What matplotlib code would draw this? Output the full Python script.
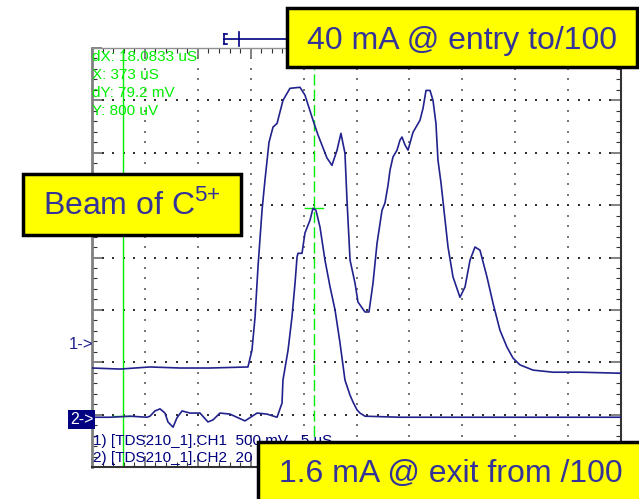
import matplotlib
matplotlib.use('Agg')
import numpy as np
import matplotlib.pyplot as plt
from matplotlib.patches import Rectangle
from matplotlib.lines import Line2D

plt.rcParams['font.family'] = ['Liberation Sans', 'DejaVu Sans']
plt.rcParams['mathtext.fontset'] = 'custom'
plt.rcParams['mathtext.rm'] = 'Liberation Sans'

# scope screen: time in us (5 us/div, 10 div), vertical in screen divisions (8 div)
ch1_t = [0, 2.65, 5.48, 8.32, 11.15, 14.74, 15.12, 15.41, 15.69, 16.07, 16.35, 16.73,
         17.11, 17.49, 18.05, 18.71, 19.66, 20.13, 20.89, 21.36, 22.21, 22.68, 23.16,
         23.53, 23.91, 24.10, 24.39, 24.86, 25.14, 25.80, 26.18, 26.56, 26.94, 27.41,
         27.69, 27.98, 28.17, 28.45, 28.83, 29.11, 29.30, 29.58, 29.87, 30.34, 31.00,
         31.29, 31.57, 31.95, 32.23, 32.51, 32.70, 32.99, 33.27, 33.65, 34.12, 34.78,
         35.26, 35.73, 36.20, 36.67, 37.33, 37.90, 38.56, 39.22, 39.79, 40.45, 41.68,
         43.57, 46.12, 50.0]
ch1_y = [1.89, 1.87, 1.91, 1.89, 1.89, 1.91, 2.23, 2.86, 3.82, 4.90, 5.48, 6.20,
         6.49, 6.56, 7.00, 7.23, 7.25, 7.10, 6.62, 6.34, 5.90, 5.76, 6.05,
         6.37, 5.99, 5.10, 3.95, 3.51, 3.15, 2.96, 2.96, 3.51, 4.27, 4.90,
         5.04, 5.38, 5.67, 5.92, 6.05, 6.24, 6.30, 6.15, 6.05, 6.39, 6.62,
         6.85, 7.19, 7.19, 7.00, 6.56, 5.86, 5.42, 4.90, 4.20, 3.63, 3.24,
         3.44, 3.95, 4.20, 4.14, 3.63, 3.13, 2.61, 2.29, 2.08, 1.95, 1.85,
         1.81, 1.81, 1.79]

ch2_t = [0, 1.70, 3.59, 5.20, 5.48, 5.95, 6.43, 6.90, 7.18, 7.66, 8.03, 8.51, 9.26,
         10.21, 10.96, 11.44, 12.10, 13.04, 14.46, 15.60, 16.54, 17.49, 17.96, 18.05,
         18.53, 18.90, 19.19, 19.38, 19.47, 19.85, 20.13, 20.60, 20.89, 21.17, 21.55,
         22.02, 22.50, 22.97, 23.44, 23.91, 24.39, 24.67, 25.05, 25.33, 25.80, 29.11,
         38.56, 50.0]
ch2_y = [0.95, 0.95, 0.97, 0.95, 0.97, 1.07, 1.11, 1.03, 0.86, 0.76, 0.94, 1.07, 1.03,
         1.03, 0.86, 0.90, 1.03, 1.01, 0.88, 1.03, 1.01, 0.95, 1.22, 1.66,
         2.23, 2.86, 3.51, 4.01, 4.08, 4.08, 4.47, 4.71, 4.94, 4.90, 4.58,
         3.95, 3.44, 3.00, 2.37, 1.66, 1.37, 1.24, 1.09, 1.03, 0.97, 0.95,
         0.95, 0.95]

cursor_x = [2.93, 21.01]
readout = ['dX: 18.0833 uS', 'X: 373 uS', 'dY: 79.2 mV', 'Y: 800 uV']
channel_info = ['1) [TDS210_1].CH1  500 mV   5 uS', '2) [TDS210_1].CH2  20 mV   5 uS']
callouts = ['40 mA @ entry to/100', 'Beam of C$^{\\mathrm{5{+}}}$', '1.6 mA @ exit from /100']

W, H = 639, 499
fig = plt.figure(figsize=(W / 100, H / 100), dpi=100)
ax = fig.add_axes([92 / W, 1 - 467 / H, 529 / W, 419 / H])
ax.set_xlim(0, 50)
ax.set_ylim(0, 8)

navy = '#22228e'
green = '#00ee00'

# dotted graticule
xx, yy = np.meshgrid(np.arange(5, 50, 5), np.arange(0, 8.01, 0.2))
ax.scatter(xx.ravel(), yy.ravel(), s=1.3, marker='s', color='#777777', linewidths=0, zorder=1)
xx, yy = np.meshgrid(np.arange(0, 50.01, 1), np.arange(1, 8, 1))
ax.scatter(xx.ravel(), yy.ravel(), s=1.3, marker='s', color='#333333', linewidths=0, zorder=1)

ax.set_xticks(np.arange(0, 51, 5))
ax.set_xticks(np.arange(0, 51, 1), minor=True)
ax.set_yticks(np.arange(0, 9, 1))
ax.set_yticks(np.arange(0, 8.01, 0.2), minor=True)
ax.tick_params(which='both', direction='in', top=True, right=True,
               labelbottom=False, labelleft=False)
ax.tick_params(which='major', length=7.5, width=1.3, color='#777777')
ax.tick_params(which='minor', length=3.5, width=0.8, color='#333333')
ax.spines['left'].set_color('#808080')
ax.spines['left'].set_linewidth(2)
ax.spines['top'].set_color('#909090')
ax.spines['top'].set_linewidth(1)
ax.spines['right'].set_color('#333333')
ax.spines['right'].set_linewidth(1.5)
ax.spines['bottom'].set_color('#333333')
ax.spines['bottom'].set_linewidth(1.5)

# cursors
ax.axvline(cursor_x[0], color=green, lw=1, zorder=2)
ax.axvline(cursor_x[1], color=green, lw=1, ls=(0, (8, 3)), zorder=2)
ax.plot([1.98, 3.59], [0.97, 0.97], color=green, lw=1, zorder=2)
ax.plot([20.13, 21.83], [4.94, 4.94], color=green, lw=1, zorder=2)

# traces
ax.plot(ch1_t, ch1_y, color=navy, lw=1.2, zorder=3)
ax.plot(ch2_t, ch2_y, color=navy, lw=1.2, zorder=3)

# readouts
for i, s in enumerate(readout):
    fig.text(92 / W, 1 - (61 + 18 * i) / H, s, color=green, fontsize=11, va='baseline')
for i, s in enumerate(channel_info):
    fig.text(93 / W, 1 - (445 + 17 * i) / H, s, color='#000080', fontsize=11, va='baseline')

fig.text(69 / W, 1 - 349 / H, '1->', color=navy, fontsize=12, va='baseline')
fig.text(70 / W, 1 - 424 / H, '2->', color='white', fontsize=11.5, va='baseline',
         bbox=dict(facecolor='#000080', edgecolor='none', pad=1.5))

# trigger position marker above the screen
yt = 1 - 39 / H
fig.add_artist(Line2D([224 / W, 290 / W], [yt, yt], color='#000080', lw=1.2))
fig.add_artist(Line2D([224 / W, 224 / W], [1 - 34 / H, 1 - 44 / H], color='#000080', lw=1.2))
fig.add_artist(Line2D([224 / W, 227 / W], [1 - 34 / H, 1 - 34 / H], color='#000080', lw=1.2))
fig.add_artist(Line2D([224 / W, 227 / W], [1 - 44 / H, 1 - 44 / H], color='#000080', lw=1.2))
fig.add_artist(Line2D([239 / W, 239 / W], [1 - 32 / H, 1 - 46 / H], color='#000080', lw=1.2))

# yellow callouts
boxes = [(287, 8, 637, 67), (23, 174, 241, 235), (258, 442, 660, 520)]
baselines = [(462, 49), (132, 214), (451, 482)]
for (x0, y0, x1, y1), (tx, ty), s in zip(boxes, baselines, callouts):
    fig.add_artist(Rectangle((x0 / W, 1 - y1 / H), (x1 - x0) / W, (y1 - y0) / H,
                             transform=fig.transFigure, facecolor='#ffff00',
                             edgecolor='black', lw=2.5, zorder=10, clip_on=False))
    fig.text(tx / W, 1 - ty / H, s, color='#333399', fontsize=23, ha='center',
             va='baseline', zorder=11)

fig.savefig('out.png', dpi=100, facecolor='white')
